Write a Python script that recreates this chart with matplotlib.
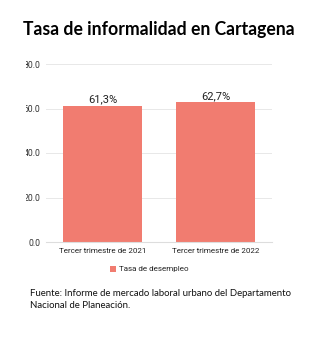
import matplotlib.pyplot as plt
from matplotlib.patches import Rectangle

periodos = ["Tercer trimestre de 2021", "Tercer trimestre de 2022"]
tasas = [61.3, 62.7]
etiquetas = ["61,3%", "62,7%"]
y_ticks = [0, 20, 40, 60, 80]

color_barra = "#F17C70"

fig = plt.figure(figsize=(3.28, 3.38), dpi=100)
W, H = 328, 338
ax = fig.add_axes([46 / W, 1 - 242 / H, 226 / W, 178 / H])

xs = list(range(len(periodos)))
ax.bar(xs, tasas, width=0.7, color=color_barra, zorder=2, label="Tasa de desempleo")
for x, v, t in zip(xs, tasas, etiquetas):
    ax.text(x, v + 0.5, t, ha="center", va="bottom", fontsize=8, color="#222222",
            family="Roboto")

ax.set_xlim(-0.5, 1.5)
ax.set_ylim(0, 80)
ax.set_yticks(y_ticks)
ax.set_yticklabels([f"{v:.1f}" for v in y_ticks], fontsize=6.2, color="#333333",
                   family="Roboto")
ax.set_xticks(xs)
ax.set_xticklabels(periodos, fontsize=5.8, color="#222222", family="Roboto")
ax.tick_params(axis="y", length=0, pad=4)
ax.tick_params(axis="x", length=0, pad=4)
ax.grid(axis="y", color="#e8e8e8", linewidth=0.7, zorder=0)
for s in ["top", "right", "left"]:
    ax.spines[s].set_visible(False)
ax.spines["bottom"].set_color("#dddddd")
ax.spines["bottom"].set_linewidth(0.8)

leg = fig.legend(loc="center", bbox_to_anchor=(149 / W, 1 - 269 / H), frameon=False,
                 prop={"family": "Roboto", "size": 5.8}, handlelength=0.8,
                 handleheight=0.8, handletextpad=0.3)
for t in leg.get_texts():
    t.set_color("#222222")

# franja blanca que recorta el borde izquierdo de las etiquetas
fig.add_artist(Rectangle((0, 1 - 250 / H), 26 / W, 200 / H, transform=fig.transFigure,
                         facecolor="white", edgecolor="none", zorder=10))

fig.text(158.5 / W, 1 - 30 / H, "Tasa de informalidad en Cartagena", ha="center",
         va="center", fontsize=12.7, fontweight="bold", family="Lato", color="black")
fig.text(30 / W, 1 - 299.5 / H, "Fuente: Informe de mercado laboral urbano del Departamento\n"
         "Nacional de Planeación.", ha="left", va="center", fontsize=6.9,
         family="Lato", color="#111111", linespacing=1.3)

fig.savefig("out.png", dpi=100, facecolor="white")
